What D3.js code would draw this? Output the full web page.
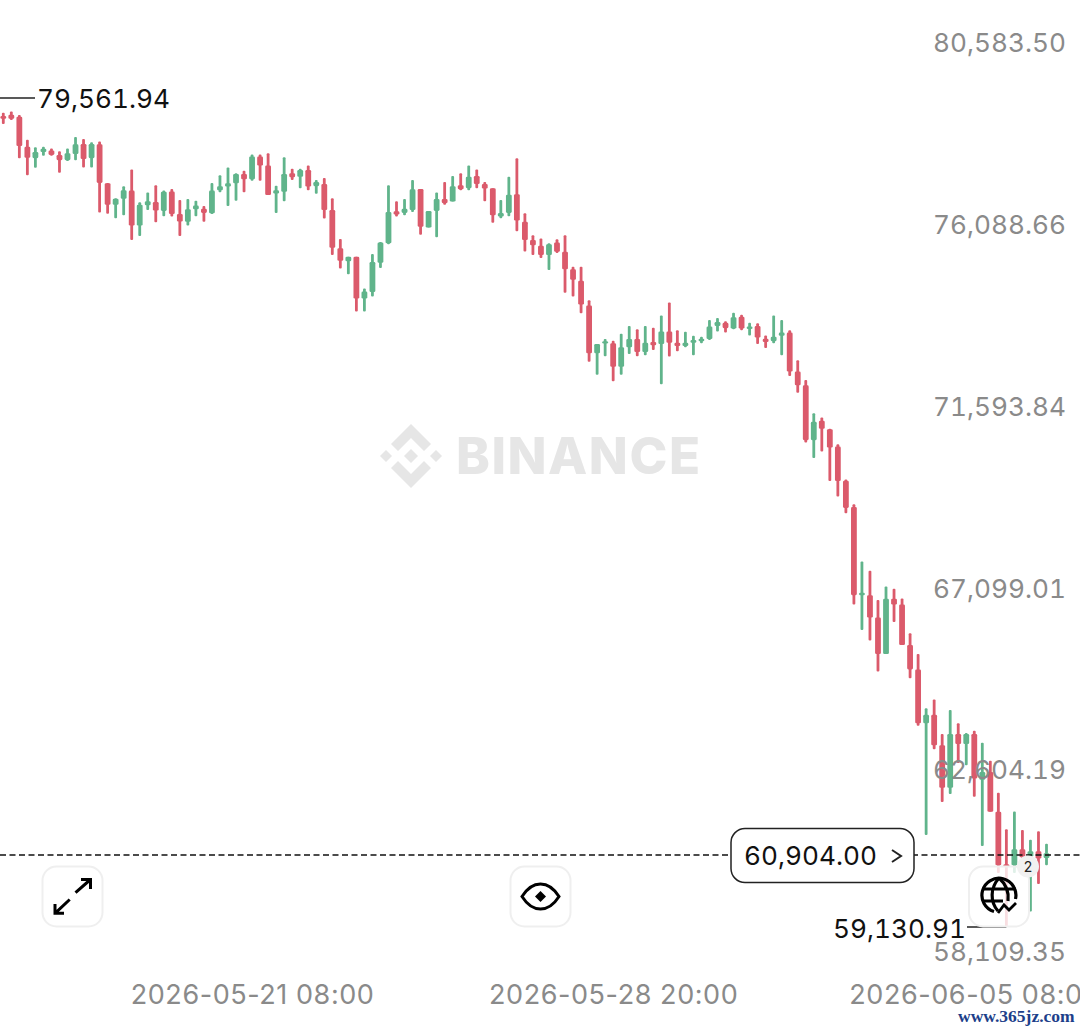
<!DOCTYPE html>
<html><head><meta charset="utf-8">
<script src="https://cdn.jsdelivr.net/npm/d3@7"></script>
<style>
html,body{margin:0;padding:0;background:#fff;overflow:hidden}
svg{display:block}
text{font-family:Inter,"Noto Sans",sans-serif}
.num{font-variant-numeric:tabular-nums;font-feature-settings:"tnum" 1}
.date{letter-spacing:.56px}
</style></head><body>
<svg id="c" width="1080" height="1033"></svg>
<script>
const opens=[79120,79150,79100,78360,78080,78230,78270,78160,78030,78180,
78430,78080,78420,77460,76930,77080,77280,76420,76920,77000,
76780,77260,76700,76510,76820,76830,76720,77290,77380,77460,
77690,77560,78120,77900,77210,77250,77710,77620,77790,77390,
77440,76800,75860,75540,75650,74620,74780,75500,75980,76770,
76730,76800,77320,76370,76780,77070,77010,77410,77340,77640,
77440,77340,76640,76730,77190,76510,76060,75920,75690,76000,
75770,75340,75060,74450,73270,73520,73520,72940,73420,73620,
73300,73550,73500,73810,73530,73450,73530,73570,73620,73940,
74020,73880,74170,73880,73940,73630,73570,73700,73780,72820,
72480,71130,71610,71400,70970,70130,69480,67310,67310,66760,
65860,67220,67080,66080,65480,64150,64360,63610,62560,63890,
63640,63890,62760,62950,61970,60680,60650,61050,60870,61000,
60830];
const highs=[79200,79230,79140,78530,78350,78360,78320,78250,78320,78600,
78550,78470,78490,77470,77090,77390,77800,76990,77230,77410,
77280,77320,77050,77070,77030,76900,77470,77660,77850,77710,
77770,78170,78170,78200,77400,78100,77820,77820,77900,77540,
77590,77090,76090,75650,75650,74870,75720,76010,77410,77020,
77070,77540,77320,76780,77230,77490,77640,77710,77900,77800,
77490,77340,77050,77620,78080,76720,76180,76100,75980,76080,
76180,75400,75400,74580,73500,73620,73580,73750,73940,73860,
73940,73900,74200,74520,73840,73800,73700,73680,74090,74140,
74060,74270,74220,74020,74010,73710,74200,74090,73840,73100,
72610,71790,71690,71410,71030,70160,69550,68140,67910,67190,
67520,67470,67230,66370,65860,64520,64740,63890,64480,64150,
63910,63970,63670,63230,62440,61540,61980,61520,61280,61490,
61180];
const lows=[78920,79020,78080,77660,77840,78140,78140,77720,78010,78030,
77850,77850,76740,76710,76600,76670,76060,76160,76800,76500,
76650,76640,76160,76420,76650,76510,76700,77240,76900,77030,
77240,77520,77520,77170,76730,77020,77540,77340,77290,77200,
76590,75690,75360,75220,74300,74300,74670,75370,75960,76640,
76670,76750,76190,76370,76130,76930,77010,77290,77290,77340,
77020,76490,76600,76650,76280,75780,75690,75620,75320,75740,
74760,74670,74260,73060,72740,73200,72580,72740,73250,73200,
73220,73350,72510,73190,73320,73420,73220,73520,73600,73810,
73780,73860,73840,73710,73500,73400,73520,73220,72710,72300,
71070,70690,70850,70120,69740,69330,67080,66450,66190,65430,
65860,66650,66080,65260,64090,61400,63510,62210,62410,63170,
63120,62340,61130,61970,60460,59130.91,60460,60780,59510,60190,
60650];
const closes=[79050,79050,78380,78090,78230,78310,78160,78030,78200,78420,
78060,78430,77470,76930,77080,77290,76420,76930,77020,76790,
77250,76700,76520,76820,76910,76730,77280,77390,77460,77690,
77560,78120,77900,77170,77290,77690,77610,77790,77380,77490,
76800,75870,75550,75650,74620,74790,75520,76000,76750,76690,
76830,77310,76390,76780,77070,76970,77390,77310,77620,77440,
77330,76670,76730,77180,76540,76060,75930,75690,75960,75770,
75340,75080,74470,73270,73500,73570,72940,73420,73620,73300,
73530,73470,73810,73530,73450,73530,73600,73630,73930,74040,
73890,74160,73880,73930,73660,73550,73680,73780,72820,72480,
71130,71580,71410,70950,70120,69460,67310,67370,66760,65860,
67220,67080,66080,65480,64150,64360,63610,62560,63890,63640,
63890,62790,62950,61970,60650,60640,61050,60850,61000,60820,
60950];
const priceTicks=[80583.50,76088.66,71593.84,67099.01,62604.19,58109.35];
const timeTickIndex=[31,76,121];
const timeTickLabels=["2026-05-21 08:00","2026-05-28 20:00","2026-06-05 08:00"];
const maxPrice=79561.94, minPrice=59130.91, lastPrice=60904.00;

const RED="#db5a6b", GREEN="#60b48b", GREY="#8a8a8a", INK="#111", NUM=26.2;
const fmt=d3.format(",.2f");
const svg=d3.select("#c");
const x=d3.scaleLinear().domain([0,opens.length-1]).range([3.3,1046.5]);
const y=d3.scaleLinear().domain([maxPrice,minPrice]).range([98,927]);
const candles=opens.map((o,i)=>({i,o,h:highs[i],l:lows[i],c:closes[i]}));

// watermark
const wm=svg.append("g").attr("fill","#e6e6e6");
[[[411,424],[431,444],[424,451],[411,438],[398,451],[391,444]],
 [[411,488],[431,468],[424,461],[411,474],[398,461],[391,468]],
 [[411,449],[418,456],[411,463],[404,456]],
 [[386,450],[392,456],[386,462],[380,456]],
 [[436,450],[442,456],[436,462],[430,456]]]
 .forEach(p=>wm.append("polygon").attr("points",p.join(" ")));
wm.append("text").attr("x",456).attr("y",474).attr("font-size",51).attr("font-weight",800)
  .attr("textLength",244).attr("lengthAdjust","spacing").text("BINANCE");

// candles
const g=svg.append("g");
const col=d=>d.c>=d.o?GREEN:RED;
g.selectAll("rect.w").data(candles).join("rect").attr("class","w")
  .attr("x",d=>x(d.i)-1.4).attr("width",2.8)
  .attr("y",d=>y(d.h)).attr("height",d=>y(d.l)-y(d.h))
  .attr("rx",1).attr("fill",col);
g.selectAll("rect.b").data(candles).join("rect").attr("class","b")
  .attr("x",d=>x(d.i)-2.9).attr("width",5.8)
  .attr("y",d=>y(Math.max(d.o,d.c))).attr("height",d=>Math.max(2.4,Math.abs(y(d.o)-y(d.c))))
  .attr("rx",1.3).attr("fill",col);

// price axis
const ya=svg.append("g").attr("transform","translate(1066,0)")
  .call(d3.axisRight(y).tickValues(priceTicks).tickFormat(fmt).tickSize(0));
ya.select(".domain").remove();
ya.selectAll("text").attr("class","num").attr("x",0).attr("dy",0).attr("y",(d,i)=>-5.5-i*0.4).attr("text-anchor","end")
  .attr("font-size",NUM).attr("fill",GREY).style("font-family","Inter");

// time axis
const xa=svg.append("g").attr("transform","translate(0,1004)")
  .call(d3.axisBottom(x).tickValues(timeTickIndex).tickFormat((d,i)=>timeTickLabels[i]).tickSize(0));
xa.select(".domain").remove();
xa.selectAll("text").attr("class","date").attr("y",0).attr("dy",0).attr("font-size",27).attr("fill",GREY).style("font-family","Inter");

// last price line
svg.append("line").attr("x1",0).attr("x2",1080).attr("y1",y(lastPrice)).attr("y2",y(lastPrice))
  .attr("stroke","#111").attr("stroke-width",1.4).attr("stroke-dasharray","6 3.5");

// max / min labels
svg.append("line").attr("x1",0).attr("x2",35).attr("y1",y(maxPrice)).attr("y2",y(maxPrice)).attr("stroke","#222").attr("stroke-width",1.3);
svg.append("text").attr("class","num").attr("x",37).attr("y",y(maxPrice)+10).attr("font-size",NUM).attr("fill",INK).text(fmt(maxPrice));
svg.append("line").attr("x1",x(125)).attr("x2",967).attr("y1",y(minPrice)).attr("y2",y(minPrice)).attr("stroke","#222").attr("stroke-width",1.3);

// pill
svg.append("rect").attr("x",731).attr("y",828.5).attr("width",183).attr("height",54).attr("rx",14)
  .attr("fill","#fff").attr("stroke","#222").attr("stroke-width",1.5);
svg.append("text").attr("class","num").attr("x",744).attr("y",865).attr("font-size",NUM).attr("fill",INK).text(fmt(lastPrice));
svg.append("path").attr("d","M892 850 L901 856 L892 862").attr("fill","none").attr("stroke","#222").attr("stroke-width",2);

// buttons
function btn(px,op){return svg.append("rect").attr("x",px).attr("y",866.5).attr("width",60).attr("height",60).attr("rx",14)
  .attr("fill","#fff").attr("fill-opacity",op).attr("stroke","#efefef").attr("stroke-width",2);}
btn(42.5,1); btn(510.5,1); btn(969,0.8);
const ic=svg.append("g").attr("fill","none").attr("stroke","#000").attr("stroke-width",3);
ic.append("path").attr("d","M75.5 892.7L90.5 879.5M81 879.5H90.5V889M69.7 899.5L55 913.3M55 904V913.3H64");
ic.append("path").attr("d","M522 896.5C528 887 534 884 540.5 884C547 884 553 887 559 896.5C553 906 547 909 540.5 909C534 909 528 906 522 896.5Z");
svg.append("polygon").attr("points","540.5,891 546,896.5 540.5,902 535,896.5").attr("fill","#000");
const gl=svg.append("g").attr("fill","none").attr("stroke","#000").attr("stroke-width",3.2);
gl.append("path").attr("d","M1015.5 899A17 17 0 1 0 994 911.5");
gl.append("path").attr("d","M999 878C990 888 990 902 998 911M999 878C1007 885 1009 893 1008 901M982.5 889H1016M982.5 901H1003");
gl.append("path").attr("d","M998 913L1004 905L1009 910L1016 903").attr("stroke-width",2.8);

// min label sits above the button
svg.append("text").attr("class","num").attr("x",833).attr("y",938).attr("font-size",NUM).attr("fill",INK).text(fmt(minPrice));

// badge
svg.append("circle").attr("cx",1028).attr("cy",866.5).attr("r",11).attr("fill","#f1f1f1");
svg.append("text").attr("x",1028).attr("y",871.5).attr("text-anchor","middle").attr("font-size",14).attr("fill","#222").text("2");

// site mark
svg.append("text").attr("x",958).attr("y",1022).attr("font-size",17.5).attr("font-weight",700)
  .style("font-family","'Liberation Serif'").attr("fill","#1d3f8a").text("www.365jz.com");
</script>
</body></html>
